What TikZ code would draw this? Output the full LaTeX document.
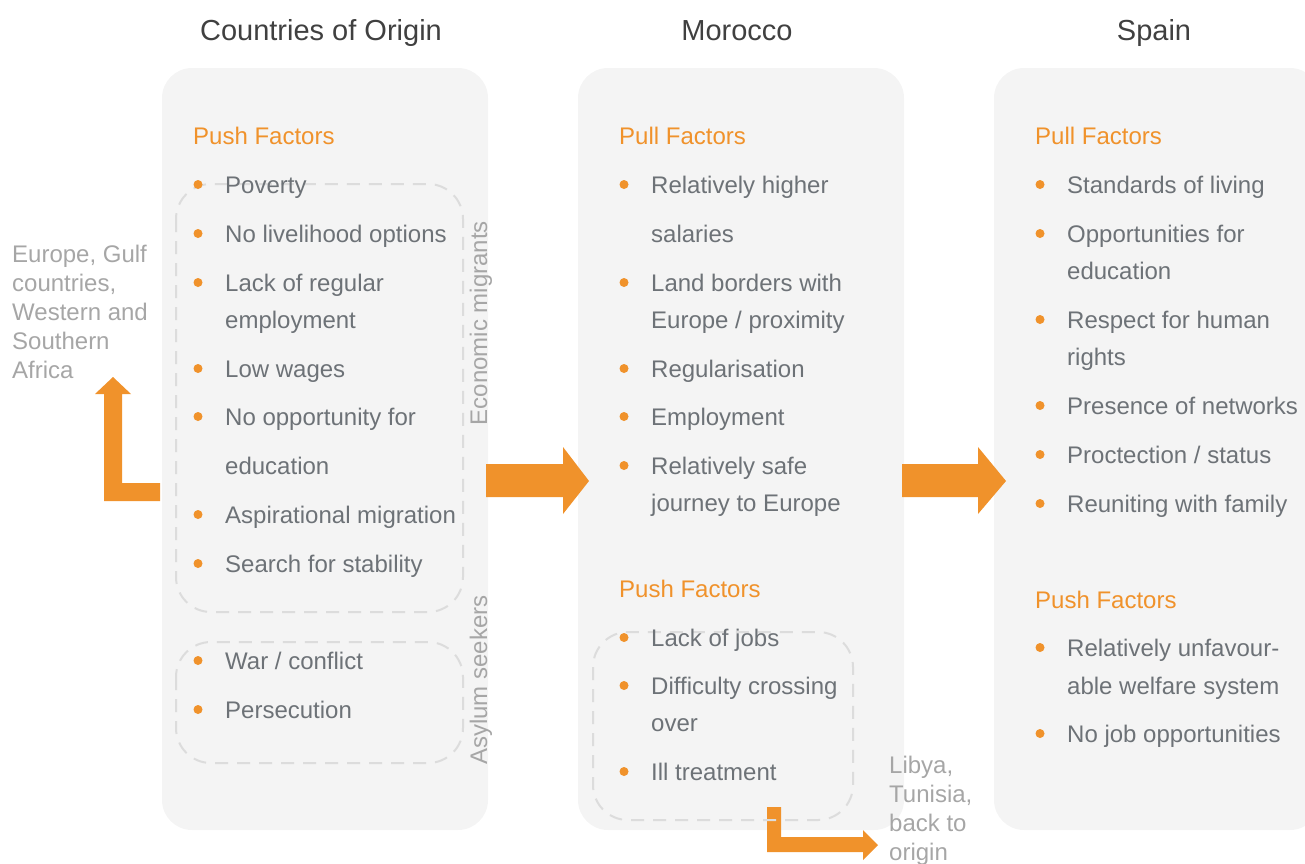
\documentclass[tikz,border=0pt]{standalone}
\usepackage{fontspec}
\setmainfont{Liberation Sans}

\definecolor{orangeF}{HTML}{F0922B}
\definecolor{panneauC}{HTML}{F4F4F4}
\definecolor{tiretC}{HTML}{DCDCDC}
\definecolor{texteC}{HTML}{6D7277}
\definecolor{titreC}{HTML}{404040}
\definecolor{noteC}{HTML}{A6A6A6}

% one column of bullet lines: x of text, prefix of names, list y/bullet/text
\newcommand{\colonne}[3]{%
  \foreach \y/\puce/\txt [count=\i] in {#3}{
    \node[texte] (#2\i) at (#1,\y) {\txt};
    \ifnum\puce=1 \fill[orangeF] ({#1-27},{\y-8.5}) circle[radius=4.5pt]; \fi
  }}

\begin{document}
\begin{tikzpicture}[x=1pt, y=-1pt]
        \tikzstyle{panneau}=[fill=panneauC, rounded corners=30pt, minimum width=326pt, minimum height=762pt, inner sep=0];
        \tikzstyle{tirets}=[draw=tiretC, line width=2pt, dash pattern=on 13pt off 9pt, rounded corners=35pt];
        \tikzstyle{titre}=[anchor=base, inner sep=0, text=titreC, font=\fontsize{29}{35}\selectfont];
        \tikzstyle{texte}=[anchor=base west, inner sep=0, text=texteC, font=\fontsize{24}{29}\selectfont];
        \tikzstyle{facteur}=[texte, text=orangeF];
        \tikzstyle{note}=[texte, text=noteC];
        \tikzstyle{cote}=[inner sep=0, text=noteC, font=\fontsize{24}{29}\selectfont, rotate=90];
        \tikzstyle{fleche}=[fill=orangeF];

        \useasboundingbox (0,0) rectangle (1305,863);
        \clip (0,0) rectangle (1305,863);

        % panels
        \node[panneau] (origin) at (325,449) {};
        \node[panneau] (morocco) at (741,449) {};
        \node[panneau] (spain) at (1157,449) {};

        \node[titre] (t-origin) at (321,40) {Countries of Origin};
        \node[titre] (t-morocco) at (737,40) {Morocco};
        \node[titre] (t-spain) at (1154,40) {Spain};

        % arrows
        \fill[fleche] (160,483) -- (122,483) -- (122,394) -- (131,394) -- (113,377)
                -- (95,394) -- (104,394) -- (104,501) -- (160,501) -- cycle;
        \fill[fleche] (486,464) -- (563,464) -- (563,447) -- (589,481) -- (563,514)
                -- (563,497) -- (486,497) -- cycle;
        \fill[fleche] (902,464) -- (978,464) -- (978,447) -- (1006,481) -- (978,514)
                -- (978,497) -- (902,497) -- cycle;
        \fill[fleche] (767,807) -- (781,807) -- (781,837) -- (863,837) -- (863,830)
                -- (878,845) -- (863,860) -- (863,852) -- (767,852) -- cycle;

        % groups
        \draw[tirets] (176,184) rectangle (463,612);
        \draw[tirets] (176,642) rectangle (463,763);
        \draw[tirets] (593,632) rectangle (853,820);

        \node[cote] (eco) at (481,323) {Economic migrants};
        \node[cote] (asyl) at (481,680) {Asylum seekers};

        % headings
        \node[facteur] (push-o) at (193,144) {Push Factors};
        \node[facteur] (pull-m) at (619,144) {Pull Factors};
        \node[facteur] (push-m) at (619,597) {Push Factors};
        \node[facteur] (pull-s) at (1035,144) {Pull Factors};
        \node[facteur] (push-s) at (1035,608) {Push Factors};

        \colonne{225}{o}{193/1/Poverty, 242/1/No livelihood options, 291/1/Lack of regular,
                328/0/employment, 377/1/Low wages, 425/1/No opportunity for, 474/0/education,
                523/1/Aspirational migration, 572/1/Search for stability, 669/1/{War / conflict},
                718/1/Persecution}
        \colonne{651}{m}{193/1/Relatively higher, 242/0/salaries, 291/1/Land borders with,
                328/0/{Europe / proximity}, 377/1/Regularisation, 425/1/Employment,
                474/1/Relatively safe, 511/0/journey to Europe, 646/1/Lack of jobs,
                694/1/Difficulty crossing, 731/0/over, 780/1/Ill treatment}
        \colonne{1067}{s}{193/1/Standards of living, 242/1/Opportunities for, 279/0/education,
                328/1/Respect for human, 365/0/rights, 414/1/Presence of networks,
                463/1/{Proctection / status}, 512/1/Reuniting with family,
                656/1/Relatively unfavour-, 694/0/able welfare system, 742/1/No job opportunities}

        % destinations
        \foreach \l [count=\i] in {{Europe, Gulf}, {countries,}, Western and, Southern, Africa}{
          \node[note] (dest-\i) at (12,{262+29*(\i-1)}) {\l};
        }
        \foreach \l [count=\i] in {{Libya,}, {Tunisia,}, back to, origin}{
          \node[note] (retour-\i) at (889,{773+29*(\i-1)}) {\l};
        }
\end{tikzpicture}
\end{document}
